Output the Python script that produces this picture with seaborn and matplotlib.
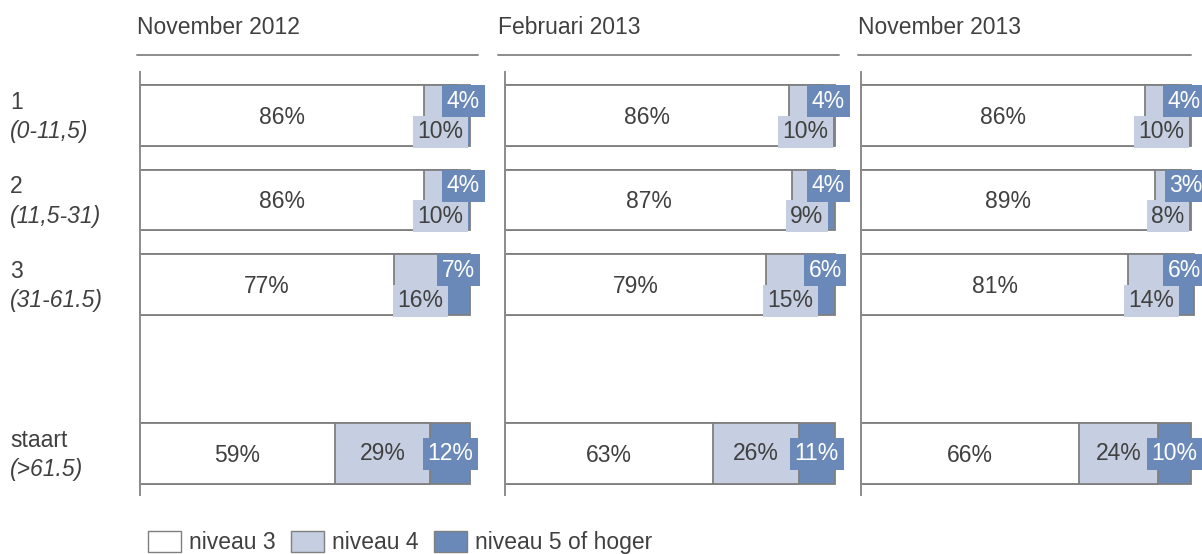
import matplotlib
matplotlib.use("Agg")
import matplotlib.pyplot as plt
from matplotlib.patches import Patch
from matplotlib.lines import Line2D
from matplotlib.transforms import blended_transform_factory
import seaborn as sns
import pandas as pd

# Survey moments (one panel each)
periods = ["November 2012", "Februari 2013", "November 2013"]

# Row groups: number and range shown on the left
groups = ["1", "2", "3", "staart"]
group_ranges = ["(0-11,5)", "(11,5-31)", "(31-61.5)", "(>61.5)"]

# Shares per level, per period (rows follow `groups`)
niveau3 = [[86, 86, 77, 59], [86, 87, 79, 63], [86, 89, 81, 66]]
niveau4 = [[10, 10, 16, 29], [10, 9, 15, 26], [10, 8, 14, 24]]
niveau5 = [[4, 4, 7, 12], [4, 4, 6, 11], [4, 3, 6, 10]]

level_names = ["niveau 3", "niveau 4", "niveau 5 of hoger"]

C_WHITE = "#ffffff"
C_LIGHT = "#c5cfe1"
C_DARK = "#6a89b8"
EDGE = "#7f7f7f"
TEXT = "#404040"
FS = 16.5

sns.set_style("white")
plt.rcParams["font.family"] = ["Liberation Sans", "DejaVu Sans"]

W, H = 1202, 554
fig = plt.figure(figsize=(W / 100, H / 100), dpi=100)

# slot order leaves an empty slot between group 3 and the tail group
slot_order = ["1", "2", "3", "", "staart"]

panel_left = [140, 505, 861]
panel_w = 330
ax_top, ax_bot = 72, 495
title_x = [137, 498, 858]

axes = []
for p, period in enumerate(periods):
    ax = fig.add_axes([panel_left[p] / W, 1 - ax_bot / H,
                       panel_w / W, (ax_bot - ax_top) / H])
    axes.append(ax)
    df = pd.DataFrame({
        "groep": groups,
        "n3": niveau3[p],
        "n4": niveau4[p],
        "n5": niveau5[p],
    })
    df["cum4"] = df["n3"] + df["n4"]
    df["cum5"] = df["cum4"] + df["n5"]

    # stacked bars drawn as overlapping cumulative totals
    for col, color in [("cum5", C_DARK), ("cum4", C_LIGHT), ("n3", C_WHITE)]:
        sns.barplot(data=df, x=col, y="groep", order=slot_order, orient="h",
                    color=color, saturation=1, width=0.72, errorbar=None,
                    edgecolor=EDGE, linewidth=1.3, ax=ax, clip_on=False)

    ax.set_xlim(0, 100)
    ax.set_ylim(4.49, -0.515)
    ax.set_xticks([])
    ax.set_yticks([])
    ax.set_xlabel("")
    ax.set_ylabel("")
    for s in ["top", "right", "bottom"]:
        ax.spines[s].set_visible(False)
    ax.spines["left"].set_color("#8c8c8c")
    ax.spines["left"].set_linewidth(1.4)

    # value labels
    for _, r in df.iterrows():
        y = slot_order.index(r["groep"])
        ax.text(r["n3"] / 2, y + 0.02, f"{r['n3']}%", ha="center", va="center",
                fontsize=FS, color=TEXT)
        stagger = (r["n4"] + r["n5"]) < 30
        dy4, dy5 = (0.19, -0.17) if stagger else (0, 0)
        ax.text(r["n3"] + r["n4"] / 2, y + dy4, f"{r['n4']}%", ha="center",
                va="center", fontsize=FS, color=TEXT, clip_on=False,
                bbox=dict(boxstyle="square,pad=0.2", fc=C_LIGHT, ec="none"))
        ax.text(r["cum4"] + r["n5"] / 2, y + dy5, f"{r['n5']}%", ha="center",
                va="center", fontsize=FS, color="white", clip_on=False,
                bbox=dict(boxstyle="square,pad=0.2", fc=C_DARK, ec="none"))

    # panel title with rule underneath
    fig.text(title_x[p] / W, 1 - 27 / H, period, ha="left", va="center",
             fontsize=FS, color=TEXT)
    x_end = min(title_x[p] + 341, 1191)
    fig.add_artist(Line2D([title_x[p] / W, x_end / W], [1 - 55 / H, 1 - 55 / H],
                          color="#8c8c8c", lw=1.4, transform=fig.transFigure))

# group labels on the left
tr = blended_transform_factory(fig.transFigure, axes[0].transData)
for g, rng in zip(groups, group_ranges):
    y = slot_order.index(g)
    axes[0].text(10 / W, y - 0.16, g, transform=tr, ha="left", va="center",
                 fontsize=FS, color=TEXT)
    axes[0].text(10 / W, y + 0.19, rng, transform=tr, ha="left", va="center",
                 fontsize=FS, color=TEXT, style="italic")

handles = [Patch(facecolor=c, edgecolor=EDGE, linewidth=1.0)
           for c in (C_WHITE, C_LIGHT, C_DARK)]
fig.legend(handles, level_names, loc="lower left",
           bbox_to_anchor=(147 / W, -0.002), ncol=3, frameon=False,
           fontsize=FS, labelcolor=TEXT, handlelength=1.45, handleheight=1.05,
           handletextpad=0.35, columnspacing=0.65, borderpad=0.05,
           borderaxespad=0)

fig.savefig("out.png", dpi=100)
